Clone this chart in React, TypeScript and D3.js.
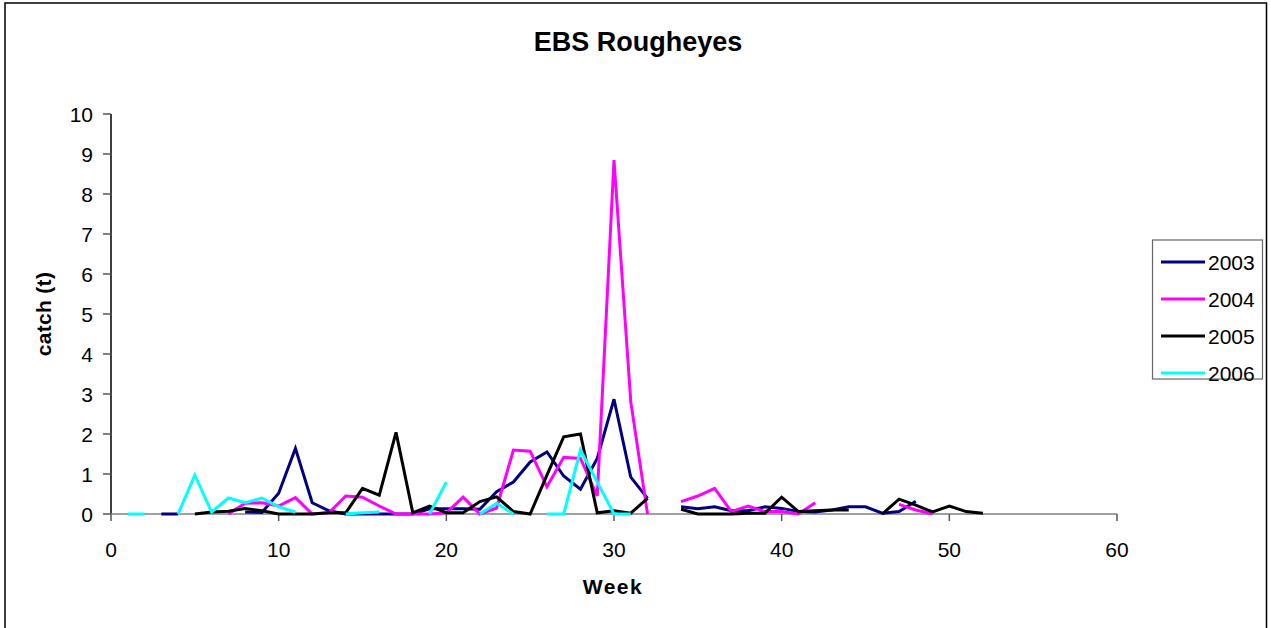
import React from "react";
import * as d3 from "d3";

// Weekly catch (t) for EBS rougheye rockfish, weeks 1..52; null = no data that week
const weeks: number[] = Array.from({ length: 52 }, (_, i) => i + 1);

const catch2003: (number | null)[] = [
  null, null, 0, 0, null, null, null, 0.05, 0.04, 0.52,
  1.64, 0.28, 0.08, 0, 0, 0, 0, 0, 0.13, 0.13,
  0.13, 0.12, 0.56, 0.8, 1.3, 1.55, 0.95, 0.62, 1.39, 2.87,
  0.92, 0.39, null, 0.18, 0.13, 0.18, 0.08, 0.08, 0.18, 0.14,
  0.06, 0.05, 0.1, 0.18, 0.18, 0.02, 0.06, 0.32, null, null,
  null, null,
];

const catch2004: (number | null)[] = [
  null, null, null, null, null, null, 0, 0.27, 0.28, 0.2,
  0.41, 0, 0.03, 0.45, 0.42, 0.2, 0, 0, 0, 0.03,
  0.42, 0, 0.15, 1.6, 1.57, 0.68, 1.42, 1.39, 0.45, 8.85,
  2.81, 0, null, 0.31, 0.45, 0.64, 0.06, 0.2, 0.06, 0.06,
  0, 0.28, null, null, null, null, 0.24, 0.1, 0, null,
  null, null,
];

const catch2005: (number | null)[] = [
  null, null, null, null, 0, 0.05, 0.07, 0.14, 0.08, 0,
  0, 0, 0.03, 0.03, 0.64, 0.47, 2.04, 0.03, 0.2, 0.03,
  0.03, 0.31, 0.43, 0.06, 0, 0.97, 1.93, 2.0, 0.03, 0.08,
  0.02, 0.39, null, 0.12, 0, 0, 0, 0.02, 0.02, 0.42,
  0.06, 0.08, 0.1, 0.1, null, 0, 0.37, 0.22, 0.05, 0.2,
  0.06, 0.02,
];

const catch2006: (number | null)[] = [
  0, 0, null, 0, 0.97, 0.05, 0.4, 0.28, 0.4, 0.18,
  0.05, null, null, 0, 0.03, 0.05, null, null, 0, 0.8,
  null, 0, 0.27, 0, null, 0, 0, 1.6, 0.8, 0,
  0, null, null, null, null, null, null, null, null, null,
  null, null, null, null, null, null, null, null, null, null,
  null, null,
];

const seriesNames = ["2003", "2004", "2005", "2006"];
const seriesValues = [catch2003, catch2004, catch2005, catch2006];
const seriesColors = ["#000080", "#ff00ff", "#000000", "#00ffff"];

const xTicks = [0, 10, 20, 30, 40, 50, 60];
const yTicks = [0, 1, 2, 3, 4, 5, 6, 7, 8, 9, 10];

const W = 1271;
const H = 628;
const FONT = "'Liberation Sans', Arial, sans-serif";

export default function App() {
  const x = d3.scaleLinear().domain([0, 60]).range([111, 1117]);
  const y = d3.scaleLinear().domain([0, 10]).range([514, 114]);

  const line = d3
    .line<{ w: number; v: number | null }>()
    .defined((d) => d.v !== null)
    .x((d) => x(d.w))
    .y((d) => y(d.v as number));

  return (
    <svg
      width={W}
      height={H}
      style={{ position: "fixed", left: 0, top: 0, background: "#fff" }}
      fontFamily={FONT}
    >
      <rect x={0} y={0} width={W} height={H} fill="#fff" />
      {/* outer chart frame */}
      <rect x={5} y={3} width={1261.5} height={H} fill="none" stroke="#000" strokeWidth={1.5} />

      {/* title */}
      <text x={638} y={51} textAnchor="middle" fontSize={27} fontWeight="bold">
        EBS Rougheyes
      </text>

      {/* y axis */}
      <line x1={111} x2={111} y1={y(10)} y2={y(0)} stroke="#000" strokeWidth={1.5} />
      {yTicks.map((t) => (
        <g key={"y" + t}>
          <line x1={103} x2={111} y1={y(t)} y2={y(t)} stroke="#555" strokeWidth={1.5} />
          <text x={93} y={y(t)} dy="0.36em" textAnchor="end" fontSize={21}>
            {t}
          </text>
        </g>
      ))}

      {/* x axis */}
      <line x1={x(0)} x2={x(60)} y1={514} y2={514} stroke="#808080" strokeWidth={1.5} />
      {xTicks.map((t) => (
        <g key={"x" + t}>
          <line x1={x(t)} x2={x(t)} y1={514} y2={521} stroke="#555" strokeWidth={1.5} />
          <text x={x(t)} y={557} textAnchor="middle" fontSize={21}>
            {t}
          </text>
        </g>
      ))}

      {/* axis titles */}
      <text x={613} y={594} textAnchor="middle" fontSize={21} fontWeight="bold" letterSpacing={1.5}>
        Week
      </text>
      <text
        transform="translate(51,314) rotate(-90)"
        textAnchor="middle"
        fontSize={21}
        fontWeight="bold"
        letterSpacing={0.3}
      >
        catch (t)
      </text>

      {/* series */}
      {seriesValues.map((vals, i) => (
        <path
          key={seriesNames[i]}
          d={line(weeks.map((w, k) => ({ w, v: vals[k] }))) || ""}
          fill="none"
          stroke={seriesColors[i]}
          strokeWidth={3}
          strokeLinejoin="miter"
        />
      ))}

      {/* legend */}
      <rect x={1152.5} y={240} width={110} height={139} fill="#fff" stroke="#666" strokeWidth={1.2} />
      {seriesNames.map((n, i) => (
        <g key={"lg" + n}>
          <line
            x1={1161}
            x2={1205}
            y1={262 + i * 37}
            y2={262 + i * 37}
            stroke={seriesColors[i]}
            strokeWidth={3}
          />
          <text x={1208} y={262 + i * 37} dy="0.36em" fontSize={21}>
            {n}
          </text>
        </g>
      ))}
    </svg>
  );
}
